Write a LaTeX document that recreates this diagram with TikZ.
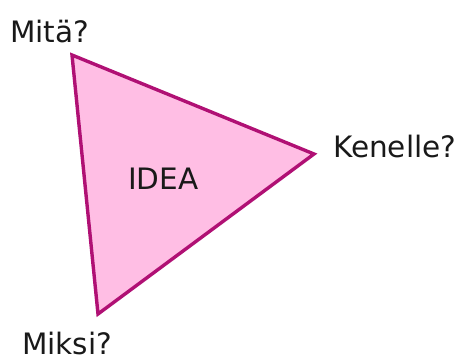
\documentclass[tikz,border=0pt]{standalone}
\usepackage{fontspec}
\setmainfont{DejaVu Sans}
\definecolor{ideafill}{RGB}{255,190,228}
\definecolor{ideaedge}{RGB}{176,16,116}
\begin{document}
\begin{tikzpicture}[x=1pt,y=-1pt,font=\fontsize{29.5}{34}\selectfont,
	corner/.style={anchor=base west, inner sep=0pt, text=black!90}]
	\useasboundingbox (0,0) rectangle (458,363);
	\coordinate (what) at (72,55);
	\coordinate (whom) at (314,154);
	\coordinate (why) at (98,314);
	\draw[fill=ideafill, draw=ideaedge, line width=3.4pt, line join=miter] (what) -- (whom) -- (why) -- cycle;
	\node[corner] (mita) at (10,43) {Mitä?};
	\node[corner] (kenelle) at (333,158) {Kenelle?};
	\node[corner] (miksi) at (22,355) {Miksi?};
	\node[corner] (idea) at (128,190) {IDEA};
\end{tikzpicture}
\end{document}
